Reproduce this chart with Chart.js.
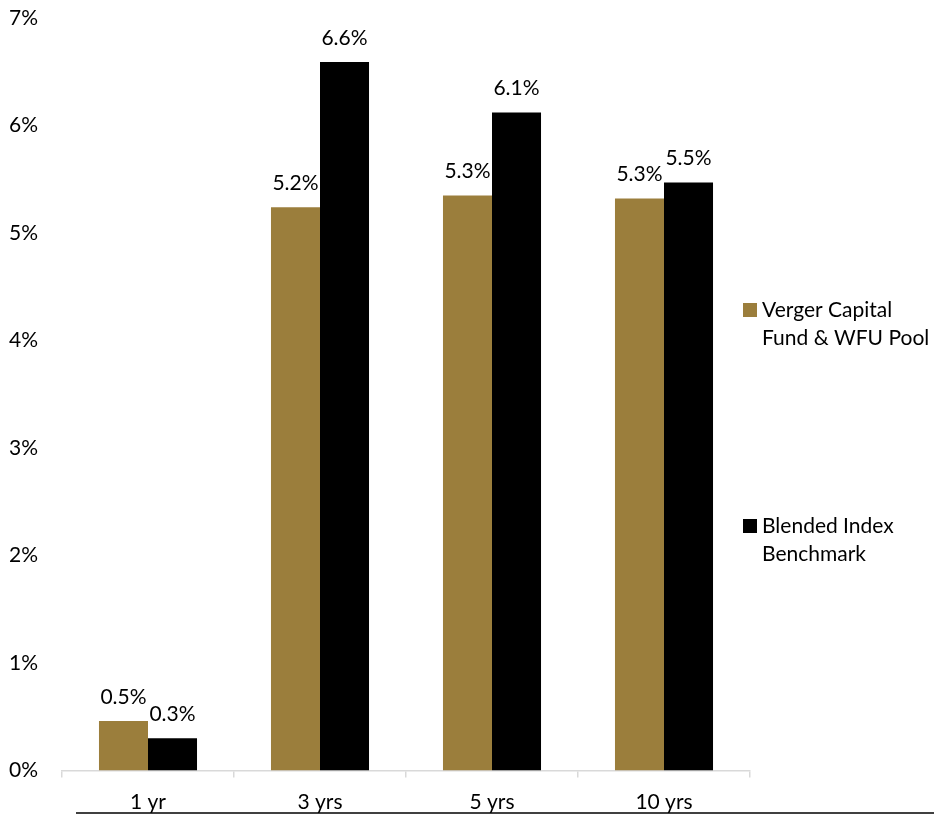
<!DOCTYPE html>
<html>
<head>
<meta charset="utf-8">
<script src="https://cdn.jsdelivr.net/npm/chart.js@4.4.1/dist/chart.umd.min.js"></script>
<style>
  html, body { margin: 0; padding: 0; background: #fff; }
  #wrap { position: relative; width: 934px; height: 814px; }
</style>
</head>
<body>
<div id="wrap"><canvas id="chart" width="934" height="814"></canvas></div>
<script>
// values (percent)
var periods = ['1 yr', '3 yrs', '5 yrs', '10 yrs'];
var vergerVals = [0.46, 5.24, 5.35, 5.32];
var blendedVals = [0.30, 6.59, 6.12, 5.47];
var seriesNames = [['Verger Capital', 'Fund & WFU Pool'], ['Blended Index', 'Benchmark']];
var seriesColors = ['#9b7e3c', '#000000'];

var FONT = 'Lato, "Open Sans", sans-serif';
var FSIZE = 21;

// numbers above each bar
var barLabels = {
    id: 'barLabels',
    afterDatasetsDraw(chart) {
        var ctx = chart.ctx;
        ctx.save();
        ctx.font = FSIZE + 'px ' + FONT;
        ctx.fillStyle = '#000';
        ctx.textAlign = 'center';
        ctx.textBaseline = 'middle';
        chart.data.datasets.forEach((ds, i) => {
            chart.getDatasetMeta(i).data.forEach((bar, j) => {
                ctx.fillText(ds.data[j].toFixed(1) + '%', bar.x, bar.y - 24);
            });
        });
        ctx.restore();
    }
};

// legend on the right with two-line names, plus the rule under the axis labels
var sideLegend = {
    id: 'sideLegend',
    afterDraw(chart) {
        var ctx = chart.ctx;
        var rows = [310, 526];
        ctx.save();
        ctx.font = FSIZE + 'px ' + FONT;
        ctx.textBaseline = 'middle';
        ctx.textAlign = 'left';
        seriesNames.forEach((lines, i) => {
            ctx.fillStyle = seriesColors[i];
            ctx.fillRect(743, rows[i] - 7, 14, 14);
            ctx.fillStyle = '#000';
            lines.forEach((t, k) => {
                ctx.fillText(t, 762, rows[i] + k * 28);
            });
        });
        ctx.strokeStyle = '#000';
        ctx.lineWidth = 1.5;
        ctx.beginPath();
        ctx.moveTo(76, 813);
        ctx.lineTo(934, 813);
        ctx.stroke();
        ctx.restore();
    }
};

new Chart(document.getElementById('chart'), {
    type: 'bar',
    data: {
        labels: periods,
        datasets: [
            { label: seriesNames[0].join(' '), data: vergerVals, backgroundColor: seriesColors[0] },
            { label: seriesNames[1].join(' '), data: blendedVals, backgroundColor: seriesColors[1] }
        ]
    },
    options: {
        responsive: false,
        animation: false,
        layout: { padding: { top: 18, right: 184, left: 0, bottom: 0 } },
        datasets: { bar: { categoryPercentage: 0.57, barPercentage: 1.0 } },
        plugins: {
            legend: { display: false },
            tooltip: { enabled: false }
        },
        scales: {
            x: {
                grid: { drawOnChartArea: false, color: '#d9d9d9', tickLength: 7, lineWidth: 1.5 },
                border: { color: '#d9d9d9', width: 1.5 },
                ticks: { color: '#000', font: { family: FONT, size: FSIZE }, padding: 12 },
                afterFit(scale) { scale.height = 43.5; }
            },
            y: {
                min: 0,
                max: 7,
                grid: { display: false },
                border: { display: false },
                ticks: {
                    stepSize: 1,
                    color: '#000',
                    font: { family: FONT, size: FSIZE },
                    padding: 16,
                    callback: v => v + '%'
                },
                afterFit(scale) {
                    scale.width = 62;
                    scale.paddingTop = 0;
                    scale.paddingBottom = 0;
                }
            }
        }
    },
    plugins: [barLabels, sideLegend]
});
</script>
</body>
</html>
